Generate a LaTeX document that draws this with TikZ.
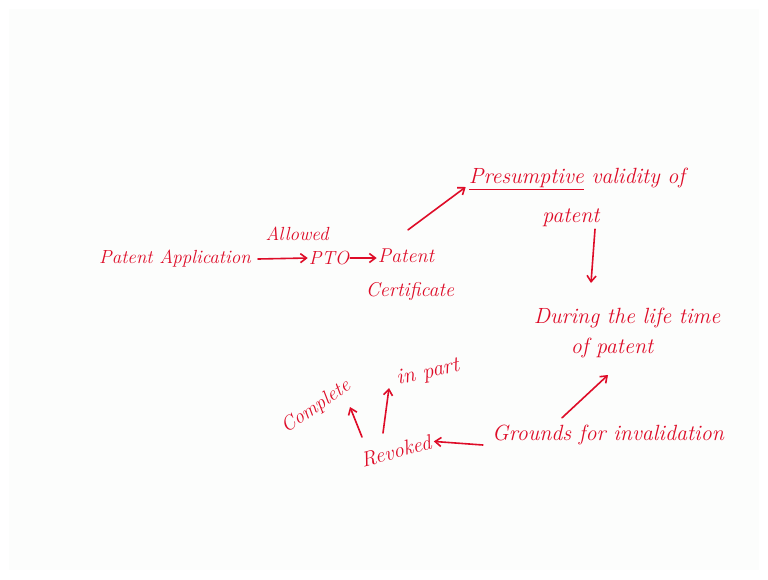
\documentclass[tikz,border=0pt]{standalone}
\usetikzlibrary{arrows.meta}
\definecolor{ink}{RGB}{222,12,40}
\definecolor{paper}{RGB}{252,253,252}
\begin{document}
\begin{tikzpicture}[x=1pt,y=-1pt,
  lbl/.style={text=ink,font=\fontsize{22}{24}\selectfont\itshape,inner sep=1pt},
  con/.style={draw=ink,line width=1.6pt,line cap=round,-{Straight Barb[length=6pt,width=9pt]}}]
\useasboundingbox (0,0) rectangle (768,579);
\fill[white] (0,0) rectangle (768,579);
\fill[paper] (9,9) rectangle (759,570);
\node[lbl,font=\fontsize{19}{21}\selectfont\itshape] (app) at (175,259) {Patent Application};
\node[lbl,font=\fontsize{19}{21}\selectfont\itshape] (allowed) at (297,234) {Allowed};
\node[lbl,font=\fontsize{19}{21}\selectfont\itshape] (pto) at (329,258) {PTO};
\node[lbl,font=\fontsize{20}{22}\selectfont\itshape] (cert1) at (406,256) {Patent};
\node[lbl,font=\fontsize{20}{22}\selectfont\itshape] (cert2) at (410,291) {Certificate};
\node[lbl] (pres) at (577,179) {\underline{Presumptive} validity of};
\node[lbl] (pres2) at (571,218) {patent};
\node[lbl] (life) at (627,318) {During the life time};
\node[lbl] (life2) at (612,348) {of patent};
\node[lbl] (grounds) at (608,435) {Grounds for invalidation};
\node[lbl,rotate=15,font=\fontsize{21}{23}\selectfont\itshape] (rev) at (396,451) {Revoked};
\node[lbl,rotate=35,font=\fontsize{20}{22}\selectfont\itshape] (comp) at (316,407) {Complete};
\node[lbl,rotate=12] (part) at (428,373) {in part};
\draw[con] (app.east) ++(6,0) -- (pto.west);
\draw[con] (pto.east) -- (cert1.west |- pto.east);
\draw[con] (cert1.north) ++(2,-18) -- ([xshift=-2pt]pres.west |- 0,187);
\draw[con] (pres2.south) ++(24,1) -- (591,283);
\draw[con] (grounds.north) ++(-46,-6) -- (608,375);
\draw[con] (grounds.west) ++(-8,10) -- ([xshift=2pt]rev.east);
\draw[con] (362,437) -- (350,407);
\draw[con] (383,433) -- (389,388);
\end{tikzpicture}
\end{document}
